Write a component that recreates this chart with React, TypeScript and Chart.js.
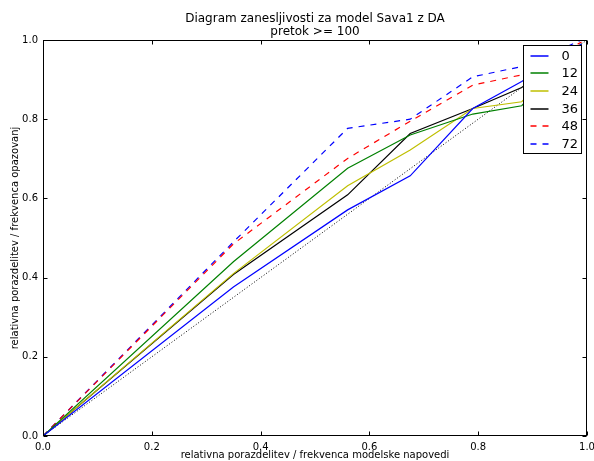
import React, { useEffect, useRef } from "react";
import { Chart, registerables } from "chart.js";

Chart.register(...registerables);

const xValues = [0, 0.35, 0.56, 0.675, 0.79, 0.88, 0.99];
const series0 = [0, 0.376, 0.571, 0.657, 0.827, 0.895, 0.99];
const series12 = [0, 0.44, 0.676, 0.76, 0.813, 0.834, 0.99];
const series24 = [0, 0.41, 0.632, 0.722, 0.827, 0.844, 0.99];
const series36 = [0, 0.408, 0.609, 0.764, 0.827, 0.88, 0.99];
const series48 = [0, 0.485, 0.701, 0.795, 0.886, 0.912, 0.995];
const series72 = [0, 0.49, 0.777, 0.8, 0.907, 0.933, 1.0];
const diagonalX = [0, 1];
const diagonalY = [0, 1];
const seriesLabels = ["0", "12", "24", "36", "48", "72"];
const seriesColors = ["#0000ff", "#008000", "#bfbf00", "#000000", "#ff0000", "#0000ff"];
const seriesDashed = [false, false, false, false, true, true];
const titleLines = ["Diagram zanesljivosti za model Sava1 z DA", "pretok >= 100"];
const xAxisLabel = "relativna porazdelitev / frekvenca modelske napovedi";
const yAxisLabel = "relativna porazdelitev / frekvenca opazovanj";

const FONT = "'DejaVu Sans', sans-serif";
const DASH = [6, 6];

const framePlugin = {
  id: "mplFrame",
  afterDatasetsDraw(chart: any) {
    const { ctx, chartArea: a, scales } = chart;
    ctx.save();
    ctx.strokeStyle = "#000";
    ctx.lineWidth = 1;
    ctx.setLineDash([]);
    const L = Math.round(a.left) + 0.5;
    const R = Math.round(a.right) - 0.5;
    const T = Math.round(a.top) + 0.5;
    const B = Math.round(a.bottom) - 0.5;
    ctx.beginPath();
    for (const t of scales.x.ticks) {
      const px = Math.round(scales.x.getPixelForValue(t.value)) + 0.5;
      ctx.moveTo(px, B);
      ctx.lineTo(px, B - 4);
      ctx.moveTo(px, T);
      ctx.lineTo(px, T + 4);
    }
    for (const t of scales.y.ticks) {
      const py = Math.round(scales.y.getPixelForValue(t.value)) + 0.5;
      ctx.moveTo(L, py);
      ctx.lineTo(L + 4, py);
      ctx.moveTo(R, py);
      ctx.lineTo(R - 4, py);
    }
    ctx.stroke();
    ctx.strokeRect(L, T, R - L, B - T);

    // legend (matplotlib style, upper right)
    const items = chart.data.datasets.filter((d: any) => seriesLabels.includes(d.label));
    const w = 58;
    const step = 17.7;
    const h = 108;
    const bx = Math.round(a.right - 6 - w) + 0.5;
    const by = Math.round(a.top + 5) + 0.5;
    ctx.fillStyle = "#fff";
    ctx.fillRect(bx, by, w, h);
    ctx.strokeStyle = "#000";
    ctx.strokeRect(bx, by, w, h);
    ctx.font = `13px ${FONT}`;
    ctx.textBaseline = "middle";
    ctx.textAlign = "left";
    items.forEach((d: any, i: number) => {
      const y = Math.round(by + 10 + i * step);
      ctx.beginPath();
      ctx.lineWidth = 1.5;
      ctx.strokeStyle = d.borderColor;
      ctx.setLineDash(d.borderDash || []);
      ctx.moveTo(bx + 7, y);
      ctx.lineTo(bx + 25, y);
      ctx.stroke();
      ctx.setLineDash([]);
      ctx.fillStyle = "#000";
      ctx.fillText(d.label, bx + 38, y + 0.5);
    });
    ctx.restore();
  },
};

const seriesValues = [series0, series12, series24, series36, series48, series72];

export default function App() {
  const ref = useRef<HTMLCanvasElement | null>(null);
  useEffect(() => {
    if (!ref.current) return;
    const datasets: any[] = seriesValues.map((vals, i) => ({
      label: seriesLabels[i],
      data: xValues.map((x, j) => ({ x, y: vals[j] })),
      borderColor: seriesColors[i],
      backgroundColor: seriesColors[i],
      borderWidth: 1.2,
      borderDash: seriesDashed[i] ? DASH : [],
      pointRadius: 0,
      fill: false,
      tension: 0,
    }));
    datasets.push({
      label: "diagonal",
      data: diagonalX.map((x, j) => ({ x, y: diagonalY[j] })),
      borderColor: "#000",
      borderWidth: 1,
      borderDash: [1, 2],
      pointRadius: 0,
      fill: false,
    });
    const chart = new Chart(ref.current, {
      type: "line",
      data: { datasets },
      options: {
        animation: false,
        responsive: false,
        devicePixelRatio: 1,
        layout: { padding: { left: 0, right: 0, top: 0, bottom: 0 } },
        plugins: {
          legend: { display: false },
          tooltip: { enabled: false },
          title: {
            display: true,
            fullSize: false,
            text: titleLines,
            color: "#000",
            font: { family: FONT, size: 12, weight: "normal", lineHeight: 1.1 },
            padding: { top: 12, bottom: 1.6 },
          },
        },
        scales: {
          x: {
            type: "linear",
            min: 0,
            max: 1,
            grid: { display: false, drawTicks: false },
            border: { display: false },
            ticks: {
              stepSize: 0.2,
              color: "#000",
              font: { family: FONT, size: 10 },
              padding: 5,
              maxRotation: 0,
              callback: (v: any) => Number(v).toFixed(1),
            },
            title: {
              display: true,
              text: xAxisLabel,
              color: "#000",
              font: { family: FONT, size: 10 },
              padding: { top: 0, bottom: 0 },
            },
            afterFit: (s: any) => {
              s.height = 25;
              s.paddingRight = 7;
              s.paddingLeft = 0;
            },
          },
          y: {
            type: "linear",
            min: 0,
            max: 1,
            grid: { display: false, drawTicks: false },
            border: { display: false },
            ticks: {
              stepSize: 0.2,
              color: "#000",
              font: { family: FONT, size: 10 },
              padding: 5,
              callback: (v: any) => Number(v).toFixed(1),
            },
            title: {
              display: true,
              text: yAxisLabel,
              color: "#000",
              font: { family: FONT, size: 10 },
              padding: { top: 9, bottom: 0 },
            },
            afterFit: (s: any) => {
              s.width = 43;
            },
          },
        },
      },
      plugins: [framePlugin],
    });
    return () => chart.destroy();
  }, []);
  return (
    <div style={{ position: "absolute", left: 0, top: 0, width: 594, height: 461, background: "#fff" }}>
      <canvas ref={ref} width={594} height={461} />
    </div>
  );
}
